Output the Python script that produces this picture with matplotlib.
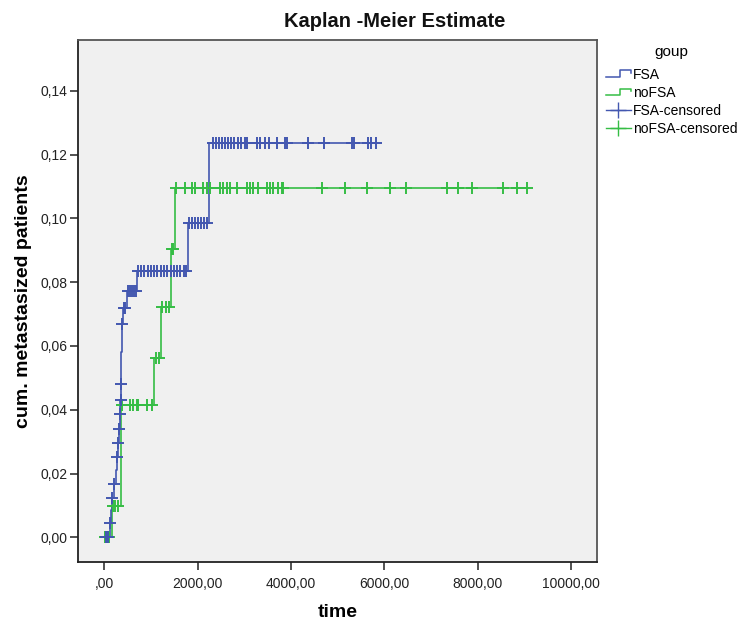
import matplotlib
matplotlib.use("Agg")
import matplotlib.pyplot as plt
import numpy as np
from matplotlib.lines import Line2D
from matplotlib.legend_handler import HandlerBase
from matplotlib.ticker import FuncFormatter

plt.rcParams['font.family'] = ['Liberation Sans', 'DejaVu Sans']

# ---------------- data ----------------
fsa_step_times = [0, 124, 156, 173, 210, 253, 280, 302, 317, 338, 349, 353, 360, 375, 409, 482, 709, 1801, 2250, 5820]
fsa_step_levels = [0.0, 0.0044, 0.0085, 0.0124, 0.0166, 0.021, 0.0253, 0.0297, 0.034, 0.0387, 0.043, 0.048, 0.058, 0.0669, 0.0718, 0.0772, 0.0835, 0.0984, 0.1235, 0.1235]

nofsa_step_times = [0, 167, 360, 1066, 1216, 1420, 1516, 9060]
nofsa_step_levels = [0.0, 0.0099, 0.0415, 0.0563, 0.0723, 0.0903, 0.1094, 0.1094]

fsa_censored_times = [40, 80, 130, 176, 215, 282, 305, 320, 340, 352, 356, 378, 420, 450,
                      510, 552, 595, 638, 680,
                      720, 790, 860, 930, 1000, 1070, 1140, 1210, 1280, 1350, 1420, 1490, 1560, 1630, 1700, 1760,
                      1815, 1880, 1944, 2008, 2073, 2137, 2201,
                      2330, 2393, 2458, 2522, 2586, 2650, 2715, 2779, 2865, 2929, 3015, 3058, 3271, 3336,
                      3443, 3528, 3700, 3871, 3914, 4364, 4707, 5306, 5349, 5649, 5713, 5820]
nofsa_censored_times = [20, 60, 100, 195, 230, 300, 375, 552, 623, 696, 730, 910, 1017,
                        1109, 1173, 1238, 1323, 1387, 1445, 1473,
                        1530, 1730, 1873, 1944, 2122, 2195, 2265, 2479, 2550, 2623, 2693, 2850, 3051, 3122,
                        3193, 3299, 3479, 3550, 3620, 3727, 3800, 3835, 4657, 5156, 5620, 6120, 6455,
                        7350, 7569, 7875, 8545, 8832, 9060]

x_ticks = [0, 2000, 4000, 6000, 8000, 10000]
y_ticks = [0.0, 0.02, 0.04, 0.06, 0.08, 0.10, 0.12, 0.14]

BLUE = "#4357B0"
GREEN = "#35BD45"


def level_at(t, times, levels):
    idx = np.searchsorted(times, t, side="right") - 1
    idx = max(0, min(idx, len(levels) - 1))
    return levels[idx]


class StepHandler(HandlerBase):
    def __init__(self, color):
        super().__init__()
        self.color = color

    def create_artists(self, legend, orig_handle, xdescent, ydescent, width, height, fontsize, trans):
        x0, x1 = -xdescent, -xdescent + width
        xm = x0 + width * 0.55
        yl = -ydescent + height * 0.15
        yh = -ydescent + height * 0.85
        ln = Line2D([x0, xm, xm, x1, x1], [yl, yl, yh, yh, yh - height * 0.25],
                    color=self.color, lw=1.1, transform=trans)
        return [ln]


fig = plt.figure(figsize=(7.39, 6.23), dpi=100)
ax = fig.add_axes([0.1062, 0.0979, 0.7016, 0.8379])
ax.set_facecolor("#F0F0F0")

ax.step(fsa_step_times, fsa_step_levels, where="post", color=BLUE, lw=1.2, zorder=3)
ax.step(nofsa_step_times, nofsa_step_levels, where="post", color=GREEN, lw=1.2, zorder=2)

fsa_cy = [level_at(t, fsa_step_times, fsa_step_levels) for t in fsa_censored_times]
nofsa_cy = [level_at(t, nofsa_step_times, nofsa_step_levels) for t in nofsa_censored_times]
ax.plot(fsa_censored_times, fsa_cy, ls="none", marker="+", ms=9, mew=1.4, color=BLUE, zorder=4)
ax.plot(nofsa_censored_times, nofsa_cy, ls="none", marker="+", ms=9, mew=1.4, color=GREEN, zorder=3)

ax.set_xlim(-550, 10550)
ax.set_ylim(-0.0077, 0.1559)
ax.set_xticks(x_ticks)
ax.set_yticks(y_ticks)


def fmt_x(v, pos):
    s = "%.2f" % v
    if s.startswith("0."):
        s = s[1:]
    return s.replace(".", ",")


def fmt_y(v, pos):
    return ("%.2f" % v).replace(".", ",")


ax.xaxis.set_major_formatter(FuncFormatter(fmt_x))
ax.yaxis.set_major_formatter(FuncFormatter(fmt_y))
ax.tick_params(direction="out", length=6, width=1.2, color="#333333", labelsize=10,
               labelcolor="#222222", pad=5)
ax.tick_params(axis="y", pad=2)
for side in ["left", "bottom"]:
    ax.spines[side].set_color("#222222")
    ax.spines[side].set_linewidth(1.3)
for side in ["top", "right"]:
    ax.spines[side].set_color("#555555")
    ax.spines[side].set_linewidth(1.3)

ax.set_xlabel("time", fontsize=14, fontweight="bold", labelpad=9)
ax.set_ylabel("cum. metastasized patients", fontsize=14, fontweight="bold", labelpad=6)
fig.text(395 / 739, 1 - 27 / 623, "Kaplan -Meier Estimate", ha="center", va="baseline",
         fontsize=14.5, fontweight="bold", color="#111111")

h1 = Line2D([], [], color=BLUE)
h2 = Line2D([], [], color=GREEN)
h3 = Line2D([], [], color=BLUE, marker="+", ms=12, lw=1.0)
h4 = Line2D([], [], color=GREEN, marker="+", ms=12, lw=1.0)
leg = fig.legend([h1, h2, h3, h4], ["FSA", "noFSA", "FSA-censored", "noFSA-censored"],
                 title="goup", loc="upper left", bbox_to_anchor=(0.8125, 0.936),
                 frameon=False, fontsize=10, title_fontsize=11,
                 handler_map={h1: StepHandler(BLUE), h2: StepHandler(GREEN)},
                 handlelength=1.8, handletextpad=0.15, labelspacing=0.3, borderaxespad=0)
leg._legend_box.align = "center"
leg._legend_box.sep = 6

fig.savefig("out.png", dpi=100)
